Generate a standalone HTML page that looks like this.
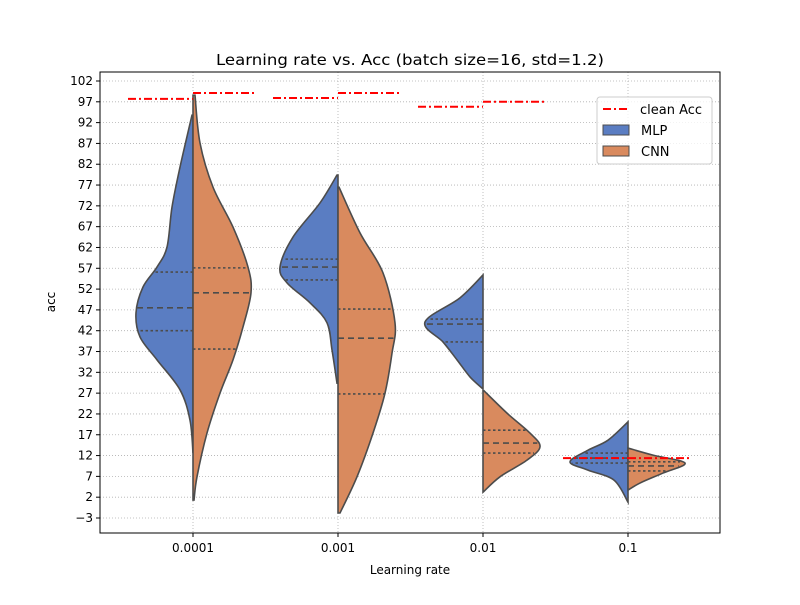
<!DOCTYPE html>
<html><head><meta charset="utf-8"><style>
body{margin:0;background:#fff}
svg text{font-family:"DejaVu Sans","Liberation Sans",sans-serif;fill:#000}
</style></head><body>
<svg width="800" height="600" viewBox="0 0 800 600" xmlns="http://www.w3.org/2000/svg" id="chart">
<rect width="800" height="600" fill="#fff"/>
<g id="grid"></g>
<g id="violins"></g>
<g id="clean"></g>
<rect x="100" y="72" width="620" height="461" fill="none" stroke="#000" stroke-width="1"/>
<g id="axes"></g>
<text x="410" y="65" font-size="15" text-anchor="middle" textLength="388" lengthAdjust="spacingAndGlyphs">Learning rate vs. Acc (batch size=16, std=1.2)</text>
<text x="410" y="574" font-size="12" text-anchor="middle">Learning rate</text>
<text x="55" y="302" font-size="12" text-anchor="middle" transform="rotate(-90 55 302)">acc</text>
<g>
<rect x="597" y="97" width="115" height="67" rx="3" fill="#fff" fill-opacity="0.8" stroke="#ccc"/>
<line x1="603" y1="109" x2="629" y2="109" stroke="#f00" stroke-width="2" stroke-dasharray="8,3,2,3"/>
<text x="640" y="114" font-size="13">clean Acc</text>
<rect x="603" y="125" width="26" height="10" fill="#5a7dc2" stroke="#4c4c4c"/>
<text x="641" y="135" font-size="13">MLP</text>
<rect x="603" y="146" width="26" height="10" fill="#d98a5e" stroke="#4c4c4c"/>
<text x="641" y="156" font-size="13">CNN</text>
</g>
</svg>
<script>
const categories=["0.0001","0.001","0.01","0.1"];
const yTicks=[-3,2,7,12,17,22,27,32,37,42,47,52,57,62,67,72,77,82,87,92,97,102];
// each profile: [acc, density]
const mlpProfiles=[
[[93.8,1],[81.3,13],[71.7,21],[62.1,26],[57.3,36],[52.5,50],[46.3,57],[40.5,53],[35,36],[27.8,13],[20.5,3],[12.6,0]],
[[79.4,1],[72.7,18],[64.5,45],[57.3,58],[53.5,51],[48.7,28],[43.9,11],[37.4,6],[29.4,1]],
[[55.4,0],[49.9,23],[44.1,58],[39.3,40],[35,26],[30.9,13],[28.2,1]],
[[20.1,0],[15.7,20],[13.3,40],[10.5,58],[8.5,40],[6.1,14],[0.8,0]]];
const cnnProfiles=[
[[98.6,2],[87.1,7],[76.5,20],[66.9,40],[57.3,55],[51.1,58],[42.9,50],[35,40],[27,27],[17.4,14],[6.9,4],[1.3,1]],
[[76.5,1],[65.5,22],[55.9,45],[43.9,57],[36.6,54],[27,47],[17.4,35],[6.9,19],[-1.8,2]],
[[27.8,0],[22.2,24],[17.4,47],[14.1,57],[10.9,44],[6.9,17],[3.2,0]],
[[13.8,0],[12.1,25],[10.2,57],[7.8,35],[5.4,12],[3.7,0]]];
const mlpQuartiles=[[56.1,47.5,42],[59.2,57.3,54.2],[44.8,43.6,39.3],[12.6,11.4,10.2]];
const cnnQuartiles=[[57.1,51.1,37.6],[47.2,40.2,26.8],[18.1,15,12.6],[10.5,9.5,8.3]];
const cleanMlp=[97.7,97.9,95.8,11.4];
const cleanCnn=[99.1,99.1,97,11.4];

const NS="http://www.w3.org/2000/svg";
const yS=v=>518-(v+3)*4.162;
const xS=i=>193+i*145;
function mk(t,a,p){const e=document.createElementNS(NS,t);for(const k in a)e.setAttribute(k,a[k]);p.appendChild(e);return e;}
const grid=document.getElementById('grid'),axes=document.getElementById('axes');
yTicks.forEach(t=>{
 const y=yS(t);
 const g=mk('line',{x1:100,x2:720,y1:y,y2:y,stroke:'#b0b0b0','stroke-width':0.8,'stroke-dasharray':'1,2'},grid);
 
 
 mk('line',{x1:96,x2:100,y1:y,y2:y,stroke:'#000'},axes);
 const tx=mk('text',{x:93,y:y+4,'font-size':12,'text-anchor':'end'},axes);
 tx.textContent=t<0?'\u2212'+(-t):String(t);
 
 
});
categories.forEach((c,i)=>{
 const x=xS(i);
 const g=mk('line',{x1:x,x2:x,y1:72,y2:533,stroke:'#b0b0b0','stroke-width':0.8,'stroke-dasharray':'1,2'},grid);
 
 
 mk('line',{x1:x,x2:x,y1:533,y2:537,stroke:'#000'},axes);
 const tx=mk('text',{x:x,y:552,'font-size':12,'text-anchor':'middle'},axes);
 tx.textContent=c;
 
 
});
function smooth(pts){
 let d='M'+pts[0][0]+','+pts[0][1];
 for(let i=0;i<pts.length-1;i++){
  const p0=pts[i-1]||pts[i],p1=pts[i],p2=pts[i+1],p3=pts[i+2]||p2;
  const c1=[p1[0]+(p2[0]-p0[0])/6,p1[1]+(p2[1]-p0[1])/6];
  const c2=[p2[0]-(p3[0]-p1[0])/6,p2[1]-(p3[1]-p1[1])/6];
  d+=' C'+c1[0]+','+c1[1]+' '+c2[0]+','+c2[1]+' '+p2[0]+','+p2[1];
 }
 return d;
}
const vg=document.getElementById('violins');
function half(i,prof,q,side,fill,name){
 const cx=xS(i);
 const pts=prof.map(p=>[cx+side*p[1],yS(p[0])]);
 const last=prof[prof.length-1],first=prof[0];
 const d=smooth(pts)+' L'+cx+','+yS(last[0])+' L'+cx+','+yS(first[0])+' Z';
 const p=mk('path',{d:d,fill:fill,stroke:'#4c4c4c','stroke-width':1.6},vg);
 
 
 q.forEach((v,k)=>{
  let w=0;
  for(let j=0;j<prof.length-1;j++){const a=prof[j],b=prof[j+1];if(v<=a[0]&&v>=b[0]){w=a[1]+(b[1]-a[1])*(a[0]-v)/(a[0]-b[0]);break;}}
  const y=yS(v);
  const l=mk('line',{x1:cx,x2:cx+side*w,y1:y,y2:y,stroke:'#4c4c4c','stroke-width':1.6,'stroke-dasharray':k==1?'6,4':'2.5,2.5'},vg);
  
  
 });
}
categories.forEach((c,i)=>{
 half(i,mlpProfiles[i],mlpQuartiles[i],-1,'#5a7dc2','violin-mlp-'+c);
 half(i,cnnProfiles[i],cnnQuartiles[i],1,'#d98a5e','violin-cnn-'+c);
});
const cg=document.getElementById('clean');
categories.forEach((c,i)=>{
 const x=xS(i);
 const a=mk('line',{x1:x-65,x2:x,y1:yS(cleanMlp[i]),y2:yS(cleanMlp[i]),stroke:'#f00','stroke-width':2,'stroke-dasharray':'8,3,2,3'},cg);
 
 
 const b=mk('line',{x1:x,x2:x+62,y1:yS(cleanCnn[i]),y2:yS(cleanCnn[i]),stroke:'#f00','stroke-width':2,'stroke-dasharray':'8,3,2,3'},cg);
 
 
});
</script>
</body></html>
